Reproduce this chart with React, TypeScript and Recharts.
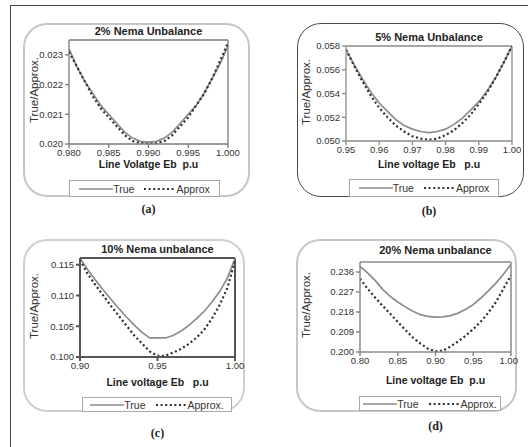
import React from "react";
import { LineChart, Line, XAxis, YAxis, ReferenceLine } from "recharts";

// (a) 2% unbalance
const aVoltage = [0.98, 0.981, 0.982, 0.983, 0.984, 0.985, 0.986, 0.987, 0.988, 0.989, 0.99, 0.991, 0.992, 0.993, 0.994, 0.995, 0.996, 0.997, 0.998, 0.999, 1.0];
const aTrue = [0.0232, 0.0226, 0.0221, 0.0217, 0.0213, 0.021, 0.0207, 0.0204, 0.0202, 0.02009, 0.02006, 0.02009, 0.0202, 0.0204, 0.0207, 0.021, 0.0213, 0.0217, 0.0222, 0.0227, 0.0233];
const aApprox = [0.0231, 0.0226, 0.0221, 0.0216, 0.0212, 0.0209, 0.0206, 0.0203, 0.0201, 0.02003, 0.02, 0.02003, 0.0201, 0.0203, 0.0206, 0.0209, 0.0213, 0.0217, 0.0222, 0.0228, 0.0234];
const aXTicks = [0.98, 0.985, 0.99, 0.995, 1.0];
const aYTicks = [0.02, 0.021, 0.022, 0.023];

// (b) 5% unbalance
const bVoltage = [0.95, 0.9525, 0.955, 0.9575, 0.96, 0.9625, 0.965, 0.9675, 0.97, 0.9725, 0.975, 0.9775, 0.98, 0.9825, 0.985, 0.9875, 0.99, 0.9925, 0.995, 0.9975, 1.0];
const bTrue = [0.0577, 0.0564, 0.0552, 0.0541, 0.0532, 0.0525, 0.0518, 0.0513, 0.051, 0.0508, 0.0507, 0.0508, 0.051, 0.0514, 0.0519, 0.0526, 0.0533, 0.0542, 0.0553, 0.0566, 0.058];
const bApprox = [0.0577, 0.0563, 0.055, 0.0538, 0.0528, 0.052, 0.0513, 0.0508, 0.0504, 0.0502, 0.0501, 0.0502, 0.0505, 0.0509, 0.0515, 0.0522, 0.0531, 0.0541, 0.0553, 0.0566, 0.058];
const bXTicks = [0.95, 0.96, 0.97, 0.98, 0.99, 1.0];
const bYTicks = [0.05, 0.052, 0.054, 0.056, 0.058];

// (c) 10% unbalance
const cVoltage = [0.9, 0.905, 0.91, 0.915, 0.92, 0.925, 0.93, 0.935, 0.94, 0.945, 0.95, 0.955, 0.96, 0.965, 0.97, 0.975, 0.98, 0.985, 0.99, 0.995, 1.0];
const cTrue = [0.116, 0.1142, 0.1125, 0.1109, 0.1094, 0.1079, 0.1065, 0.1052, 0.104, 0.1031, 0.1031, 0.1031, 0.1035, 0.1042, 0.1051, 0.1062, 0.1074, 0.1089, 0.1106, 0.1128, 0.116];
const cApprox = [0.1158, 0.1135, 0.1117, 0.11, 0.1083, 0.1067, 0.1051, 0.1035, 0.1022, 0.1009, 0.1002, 0.1002, 0.1007, 0.1013, 0.1021, 0.1031, 0.1044, 0.1062, 0.1084, 0.1112, 0.1156];
const cXTicks = [0.9, 0.95, 1.0];
const cYTicks = [0.1, 0.105, 0.11, 0.115];

// (d) 20% unbalance
const dVoltage = [0.8, 0.81, 0.82, 0.83, 0.84, 0.85, 0.86, 0.87, 0.88, 0.89, 0.9, 0.91, 0.92, 0.93, 0.94, 0.95, 0.96, 0.97, 0.98, 0.99, 1.0];
const dTrue = [0.2385, 0.2356, 0.2322, 0.2282, 0.225, 0.2225, 0.2203, 0.2183, 0.2168, 0.216, 0.2157, 0.2158, 0.2164, 0.2175, 0.2192, 0.2213, 0.2243, 0.2275, 0.231, 0.235, 0.2395];
const dApprox = [0.233, 0.2285, 0.2245, 0.2208, 0.2172, 0.2135, 0.21, 0.2065, 0.2038, 0.2015, 0.2003, 0.2006, 0.2025, 0.2048, 0.2073, 0.2103, 0.2137, 0.2177, 0.2225, 0.2285, 0.2345];
const dXTicks = [0.8, 0.85, 0.9, 0.95, 1.0];
const dYTicks = [0.2, 0.209, 0.218, 0.227, 0.236];

const FONT = "'Liberation Sans', Arial, sans-serif";

type PanelProps = {
  box: [number, number, number, number]; // left, top, right, bottom
  plot: [number, number, number, number];
  boxBorder: string;
  frame: string;
  frameWidth: number;
  title: string;
  titleY: number;
  xLabel: string;
  xLabelY: number;
  yLabelX: number;
  legend: [number, number, number, number];
  approxName: string;
  caption: string;
  captionY: number;
  xs: number[];
  trueVals: number[];
  approxVals: number[];
  xTicks: number[];
  yTicks: number[];
  xDomain: [number, number];
  yDomain: [number, number];
  xDigits: number;
};

function Panel(p: PanelProps) {
  const [bl, bt, br, bb] = p.box;
  const [pl, pt, pr, pb] = p.plot;
  const w = br - bl;
  const h = bb - bt;
  const xAxisH = 30;
  const rows = p.xs.map((x, i) => ({ x, t: p.trueVals[i], a: p.approxVals[i] }));
  const cx = (pl + pr) / 2;
  const tick = { fontSize: 9.5, fill: "#333", fontFamily: FONT };
  const [ll, lt, lr, lb] = p.legend;

  return (
    <>
      <div
        style={{
          position: "absolute",
          left: bl,
          top: bt,
          width: w,
          height: h,
          boxSizing: "border-box",
          border: p.boxBorder,
          borderRadius: 24,
        }}
      />
      <div style={{ position: "absolute", left: bl, top: bt }}>
        <LineChart
          width={w}
          height={h}
          data={rows}
          margin={{ top: pt - bt, right: br - pr, bottom: bb - pb - xAxisH, left: 0 }}
        >
          <XAxis
            dataKey="x"
            type="number"
            domain={p.xDomain}
            ticks={p.xTicks}
            allowDataOverflow
            height={xAxisH}
            tickSize={4}
            tickMargin={1}
            tick={tick}
            tickFormatter={(v: number) => v.toFixed(p.xDigits)}
            stroke={p.frame}
            strokeWidth={p.frameWidth}
          />
          <YAxis
            type="number"
            domain={p.yDomain}
            ticks={p.yTicks}
            allowDataOverflow
            width={pl - bl}
            tickSize={4}
            tick={tick}
            tickFormatter={(v: number) => v.toFixed(3)}
            stroke={p.frame}
            strokeWidth={p.frameWidth}
          />
          {/* close the plot frame on the top and right */}
          <ReferenceLine y={p.yDomain[1]} stroke={p.frame} strokeWidth={p.frameWidth} />
          <ReferenceLine x={p.xDomain[1]} stroke={p.frame} strokeWidth={p.frameWidth} />
          <Line
            dataKey="t"
            stroke="#8c8c8c"
            strokeWidth={1.7}
            dot={false}
            isAnimationActive={false}
          />
          <Line
            dataKey="a"
            stroke="#2e2e2e"
            strokeWidth={2.2}
            strokeDasharray="2 2.6"
            dot={false}
            isAnimationActive={false}
          />
        </LineChart>
      </div>
      <div
        style={{
          position: "absolute",
          left: cx - 100,
          width: 200,
          top: p.titleY - 8,
          textAlign: "center",
          fontFamily: FONT,
          fontWeight: "bold",
          fontSize: 11,
          color: "#222",
        }}
      >
        {p.title}
      </div>
      <div
        style={{
          position: "absolute",
          left: cx - 100,
          width: 200,
          top: p.xLabelY - 5,
          textAlign: "center",
          fontFamily: FONT,
          fontWeight: "bold",
          fontSize: 10.5,
          color: "#222",
          whiteSpace: "pre",
        }}
      >
        {p.xLabel}
      </div>
      <div
        style={{
          position: "absolute",
          left: p.yLabelX - 50,
          top: (pt + pb) / 2 - 8,
          width: 100,
          textAlign: "center",
          fontFamily: FONT,
          fontSize: 11.5,
          color: "#333",
          transform: "rotate(-90deg)",
        }}
      >
        True/Approx.
      </div>
      <div
        style={{
          position: "absolute",
          left: ll,
          top: lt,
          width: lr - ll,
          height: lb - lt,
          boxSizing: "border-box",
          border: "1.5px solid #a8a8a8",
          background: "#fff",
          display: "flex",
          alignItems: "center",
          justifyContent: "center",
          fontFamily: FONT,
          fontSize: 10.5,
          color: "#333",
        }}
      >
        <svg width={34} height={6}>
          <line x1={0} y1={3} x2={34} y2={3} stroke="#8c8c8c" strokeWidth={1.7} />
        </svg>
        <span style={{ marginRight: 10 }}>True</span>
        <svg width={32} height={6}>
          <line x1={0} y1={3} x2={32} y2={3} stroke="#2e2e2e" strokeWidth={2.2} strokeDasharray="2 2.6" />
        </svg>
        <span>{p.approxName}</span>
      </div>
      <div
        style={{
          position: "absolute",
          left: cx - 30,
          width: 60,
          top: p.captionY - 8,
          textAlign: "center",
          fontFamily: "'Liberation Serif', 'Times New Roman', serif",
          fontWeight: "bold",
          fontSize: 12,
          color: "#222",
        }}
      >
        {p.caption}
      </div>
    </>
  );
}

export default function App() {
  return (
    <div
      style={{
        position: "absolute",
        left: 0,
        top: 0,
        width: 528,
        height: 447,
        background: "#fff",
        overflow: "hidden",
      }}
    >
      <style>{`svg.recharts-surface { overflow: visible; }`}</style>
      <div
        style={{
          position: "absolute",
          left: 10,
          top: 5,
          width: 540,
          height: 460,
          borderLeft: "1.5px solid #444",
          borderTop: "1.5px solid #444",
        }}
      />
      <Panel
        box={[23, 23, 250, 197]}
        plot={[69, 40, 228, 144]}
        boxBorder="2px solid #c6c6c6"
        frame="#7a7a7a"
        frameWidth={1.3}
        title="2% Nema Unbalance"
        titleY={33}
        xLabel="Line Volatge Eb  p.u"
        xLabelY={163}
        yLabelX={34}
        legend={[69, 180, 220, 197]}
        approxName="Approx"
        caption="(a)"
        captionY={210}
        xs={aVoltage}
        trueVals={aTrue}
        approxVals={aApprox}
        xTicks={aXTicks}
        yTicks={aYTicks}
        xDomain={[0.98, 1.0]}
        yDomain={[0.02, 0.0235]}
        xDigits={3}
      />
      <Panel
        box={[297, 23, 524, 197]}
        plot={[346, 46, 512, 141]}
        boxBorder="1.5px solid #4a4a4a"
        frame="#8a8a8a"
        frameWidth={1.3}
        title="5% Nema Unbalance"
        titleY={39}
        xLabel="Line voltage Eb   p.u"
        xLabelY={163}
        yLabelX={306}
        legend={[349, 179, 499, 197]}
        approxName="Approx"
        caption="(b)"
        captionY={212}
        xs={bVoltage}
        trueVals={bTrue}
        approxVals={bApprox}
        xTicks={bXTicks}
        yTicks={bYTicks}
        xDomain={[0.95, 1.0]}
        yDomain={[0.05, 0.058]}
        xDigits={2}
      />
      <Panel
        box={[23, 239, 245, 412]}
        plot={[80, 258, 235, 357]}
        boxBorder="2px solid #cfcfcf"
        frame="#555"
        frameWidth={2}
        title="10% Nema unbalance"
        titleY={251}
        xLabel="Line voltage Eb   p.u"
        xLabelY={381}
        yLabelX={34}
        legend={[82, 397, 232, 412]}
        approxName="Approx."
        caption="(c)"
        captionY={434}
        xs={cVoltage}
        trueVals={cTrue}
        approxVals={cApprox}
        xTicks={cXTicks}
        yTicks={cYTicks}
        xDomain={[0.9, 1.0]}
        yDomain={[0.1, 0.1161]}
        xDigits={2}
      />
      <Panel
        box={[296, 239, 517, 412]}
        plot={[360, 262, 511, 352]}
        boxBorder="2px solid #c6c6c6"
        frame="#8a8a8a"
        frameWidth={1.5}
        title="20% Nema unbalance"
        titleY={252}
        xLabel="Line voltage Eb  p.u"
        xLabelY={379}
        yLabelX={306}
        legend={[359, 396, 501, 411]}
        approxName="Approx."
        caption="(d)"
        captionY={427}
        xs={dVoltage}
        trueVals={dTrue}
        approxVals={dApprox}
        xTicks={dXTicks}
        yTicks={dYTicks}
        xDomain={[0.8, 1.0]}
        yDomain={[0.2, 0.2405]}
        xDigits={2}
      />
    </div>
  );
}
